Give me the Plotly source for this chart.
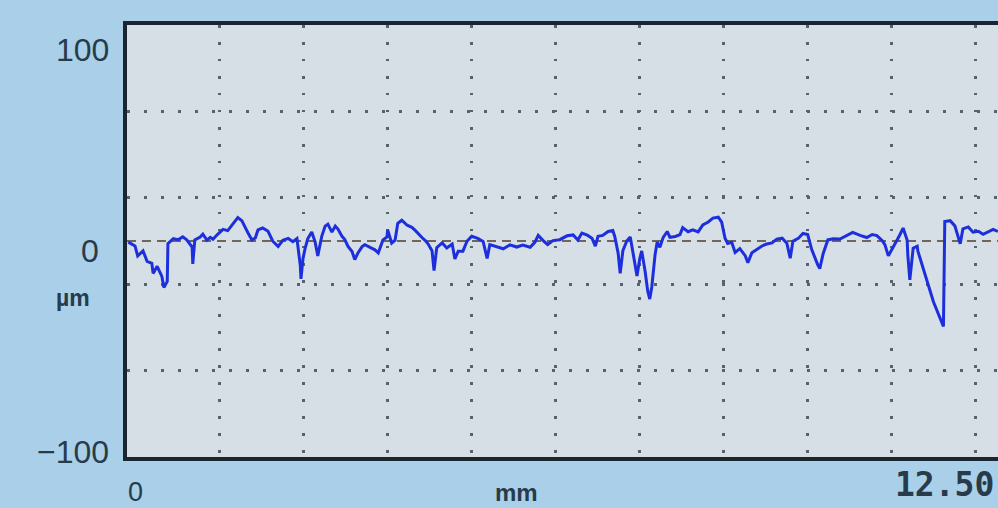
import plotly.graph_objects as go

# Profile data: position (mm) and height (µm)
x_mm = [-0.10, 0.00, 0.04, 0.12, 0.18, 0.25, 0.27, 0.33, 0.40, 0.43, 0.48, 0.49, 0.57, 0.64, 0.71, 0.77,
        0.85, 0.86, 0.89, 0.97, 1.01, 1.07, 1.12, 1.16, 1.23, 1.31, 1.38, 1.49, 1.53, 1.59, 1.64, 1.68,
        1.74, 1.79, 1.83, 1.90, 1.98, 2.05, 2.13, 2.20, 2.28, 2.35, 2.41, 2.46, 2.47, 2.50, 2.53, 2.57,
        2.63, 2.68, 2.72, 2.78, 2.83, 2.87, 2.93, 2.98, 3.02, 3.08, 3.12, 3.17, 3.23, 3.27, 3.32, 3.38,
        3.42, 3.50, 3.57, 3.62, 3.69, 3.75, 3.76, 3.82, 3.87, 3.91, 3.97, 4.05, 4.12, 4.17, 4.21, 4.27,
        4.32, 4.36, 4.42, 4.45, 4.49, 4.57, 4.64, 4.72, 4.76, 4.81, 4.88, 4.94, 5.01, 5.10, 5.18, 5.24,
        5.28, 5.39, 5.48, 5.58, 5.68, 5.77, 5.88, 5.95, 6.00, 6.07, 6.14, 6.22, 6.32, 6.43, 6.52, 6.59,
        6.65, 6.73, 6.80, 6.85, 6.89, 6.96, 7.04, 7.11, 7.14, 7.19, 7.22, 7.26, 7.32, 7.37, 7.41, 7.47,
        7.51, 7.54, 7.59, 7.63, 7.66, 7.69, 7.74, 7.77, 7.81, 7.86, 7.92, 7.96, 8.04, 8.11, 8.15, 8.23,
        8.30, 8.38, 8.45, 8.53, 8.60, 8.68, 8.73, 8.78, 8.82, 8.88, 8.93, 9.00, 9.08, 9.12, 9.18, 9.26,
        9.33, 9.40, 9.48, 9.55, 9.63, 9.70, 9.75, 9.79, 9.87, 9.94, 10.01, 10.07, 10.12, 10.16, 10.19, 10.24,
        10.31, 10.39, 10.49, 10.60, 10.68, 10.79, 10.89, 10.97, 11.04, 11.12, 11.16, 11.21, 11.27, 11.34, 11.38, 11.43,
        11.49, 11.50, 11.53, 11.58, 11.64, 11.65, 11.88, 12.03, 12.05, 12.13, 12.20, 12.28, 12.32, 12.40, 12.47, 12.55,
        12.62, 12.69, 12.77, 12.84]
z_um = [-0.5, -2.3, -6.9, -4.6, -9.4, -10.3, -15.0, -11.7, -16.4, -21.5, -18.7, -1.2, 1.1, 0.6, 1.9, 0.5,
        -2.8, -10.6, 0.5, 1.8, 3.2, 0.4, 1.7, 0.8, 3.1, 5.4, 4.8, 9.4, 10.8, 9.4, 6.1, 3.8,
        0.5, 1.4, 5.1, 6.0, 4.5, -0.1, -2.5, 0.3, 1.2, -0.3, 1.1, -11.4, -17.5, -8.2, -3.6, 1.0,
        4.2, -0.4, -6.9, 2.3, 6.9, 7.8, 4.1, 6.9, 5.5, 2.2, 0.8, -2.5, -4.9, -8.6, -5.4, -2.6,
        -1.7, -3.1, -4.1, -5.5, 0.5, 1.9, 5.1, -1.0, 0.4, 8.2, 9.6, 7.3, 6.3, 4.9, 3.5, 1.6,
        0.2, -1.3, -4.5, -13.7, -3.1, -0.9, -3.2, -1.4, -8.3, -4.7, -4.7, -0.1, 2.2, 1.2, -0.2, -8.1,
        -1.7, -2.6, -3.6, -1.8, -2.8, -1.9, -2.9, -0.6, 2.6, 0.3, -1.6, 0.2, 0.6, 2.4, 2.8, 0.5,
        3.7, 2.7, 1.3, -2.4, 2.2, 2.6, 4.4, 4.9, 2.0, -5.8, -15.0, -4.5, 0.1, 1.9, -5.9, -16.2,
        -8.3, -4.6, -13.9, -23.2, -26.9, -21.3, -6.1, -0.6, -2.9, 1.7, 4.4, 1.7, 2.1, 3.0, 6.2, 4.3,
        5.2, 4.2, 7.5, 8.8, 10.6, 11.0, 8.7, 1.3, -1.1, -0.6, -5.3, -3.5, -6.8, -10.0, -5.4, -3.6,
        -2.3, -1.4, -0.9, 0.9, 1.3, -1.0, -8.0, -0.1, 1.2, 3.5, 3.0, -4.0, -8.2, -11.0, -12.8, -5.9,
        0.5, 1.0, 0.9, 2.7, 4.0, 2.6, 1.6, 3.0, 2.5, 0.1, -1.8, -6.9, -3.2, 0.5, 2.8, 6.0,
        0.4, -6.5, -18.0, -3.3, -2.4, -4.7, -28.0, -39.6, 9.0, 9.4, 7.0, -1.3, 5.6, 6.5, 4.1, 4.5,
        3.1, 4.0, 5.4, 4.4]

x_grid = [1.25, 2.5, 3.75, 5.0, 6.25, 7.5, 8.75, 10.0, 11.25, 12.5]
y_grid = [-60, -20, 20, 60]
x_range = [-0.119, 12.842]
y_range = [-100, 100]

W, H = 998, 508
L, R, T, B = 127, 0, 25, 51


def px(xp):
    return (xp - L) / (W - L - R)


def py(yp):
    return 1 - (yp - T) / (H - T - B)


fig = go.Figure()
fig.add_trace(go.Scatter(x=x_mm, y=z_um, mode="lines",
                         line=dict(color="#1d2fdc", width=3), hoverinfo="skip"))

fig.add_shape(type="line", xref="paper", yref="y", x0=0, x1=1, y0=0, y1=0,
              line=dict(color="#6f655a", width=2, dash="9px,6px"), layer="below")

txt = "#283b4a"
ann = [
    dict(text="100", x=px(111), y=py(50), xanchor="right", size=32, family="Liberation Sans, Arial"),
    dict(text="0", x=px(90), y=py(251), xanchor="center", size=32, family="Liberation Sans, Arial"),
    dict(text="<b>µm</b>", x=px(73), y=py(298), xanchor="center", size=23, family="Liberation Sans, Arial"),
    dict(text="−100", x=px(111), y=py(452), xanchor="right", size=32, family="Liberation Sans, Arial"),
    dict(text="0", x=px(135), y=py(492), xanchor="center", size=27, family="Liberation Sans, Arial"),
    dict(text="<b>mm</b>", x=px(516), y=py(493), xanchor="center", size=24, family="Liberation Sans Narrow, Liberation Sans, Arial"),
    dict(text="<b>12.50</b>", x=px(893), y=py(484), xanchor="left", size=33, family="DejaVu Sans Mono, monospace"),
]
for a in ann:
    fig.add_annotation(text=a["text"], x=a["x"], y=a["y"], xref="paper", yref="paper",
                       xanchor=a["xanchor"], yanchor="middle", showarrow=False,
                       font=dict(size=a["size"], family=a["family"], color=txt))

fig.update_xaxes(range=x_range, tickmode="array", tickvals=x_grid, showticklabels=False,
                 ticks="", showgrid=True, gridcolor="#56636d", gridwidth=2.5, griddash="2.5px,14.5px",
                 zeroline=False, showline=True, linecolor="#1b2530", linewidth=3.5, mirror=True)
fig.update_yaxes(range=y_range, tickmode="array", tickvals=y_grid, showticklabels=False,
                 ticks="", showgrid=True, gridcolor="#56636d", gridwidth=2.5, griddash="2.5px,14.5px",
                 zeroline=False, showline=True, linecolor="#1b2530", linewidth=3.5, mirror=False)

fig.update_layout(width=W, height=H, margin=dict(l=L, r=R, t=T, b=B),
                  paper_bgcolor="#a9d0e8", plot_bgcolor="#d6dfe5", showlegend=False)

fig.write_html("out.html", config={"displayModeBar": False})
